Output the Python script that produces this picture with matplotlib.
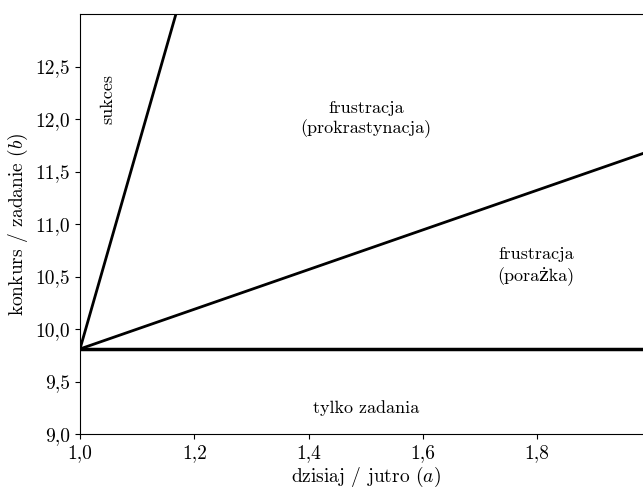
import numpy as np
import matplotlib
matplotlib.use("Agg")
import matplotlib.pyplot as plt
from matplotlib.ticker import FuncFormatter

plt.rcParams['font.family'] = ['cmr10', 'DejaVu Serif']
plt.rcParams['mathtext.fontset'] = 'cm'
plt.rcParams['axes.formatter.use_mathtext'] = True
plt.rcParams['font.size'] = 13
plt.rcParams['xtick.labelsize'] = 14
plt.rcParams['ytick.labelsize'] = 14
plt.rcParams['axes.labelsize'] = 14

# data: three boundary lines starting at (1, g)
a_steep = [1.0, 1.2]
b_steep = [9.81, 13.61]
a_mid = [1.0, 2.0]
b_mid = [9.81, 11.70]
a_flat = [1.0, 2.0]
b_flat = [9.81, 9.81]

labels = ["sukces", "frustracja\n(prokrastynacja)", "frustracja\n(porażka)", "tylko zadania"]
label_a = [1.049, 1.5, 1.798, 1.5]
label_b = [12.19, 12.0, 10.6, 9.248]
label_rot = [90, 0, 0, 0]

fig = plt.figure(figsize=(6.43, 4.87), dpi=100)
ax = fig.add_axes([80 / 643, 1 - 434 / 487, 571.5 / 643, (434 - 14) / 487])

ax.plot(a_steep, b_steep, color='black', lw=2)
ax.plot(a_mid, b_mid, color='black', lw=2)
ax.plot(a_flat, b_flat, color='black', lw=2.5)

for t, x, y, r in zip(labels, label_a, label_b, label_rot):
    ax.text(x, y, t, rotation=r, ha='center', va='center', multialignment='center',
            linespacing=1.25)

ax.set_xlim(1.0, 2.0)
ax.set_ylim(9.0, 13.0)
ax.set_xticks([1.0, 1.2, 1.4, 1.6, 1.8])
ax.set_yticks([9.0, 9.5, 10.0, 10.5, 11.0, 11.5, 12.0, 12.5])
fmt = FuncFormatter(lambda v, p: f"{v:.1f}".replace('.', ','))
ax.xaxis.set_major_formatter(fmt)
ax.yaxis.set_major_formatter(fmt)
ax.set_xlabel("dzisiaj / jutro ($a$)", labelpad=2)
ax.set_ylabel("konkurs / zadanie ($b$)", labelpad=4)

fig.savefig("out.png", dpi=100)
